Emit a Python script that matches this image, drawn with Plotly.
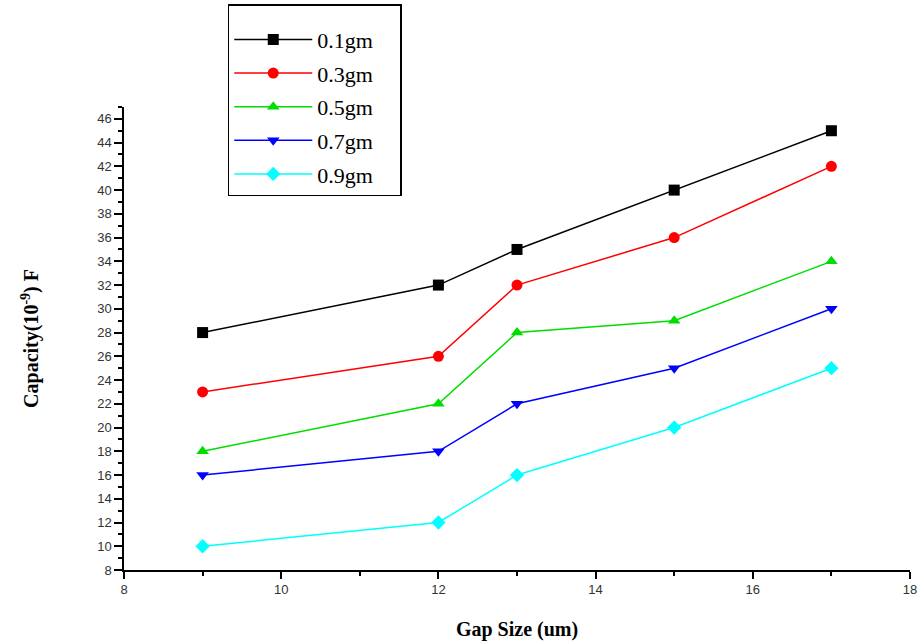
import plotly.graph_objects as go

gap = [9, 12, 13, 15, 17]
names = ["0.1gm", "0.3gm", "0.5gm", "0.7gm", "0.9gm"]
v01 = [28, 32, 35, 40, 45]
v03 = [23, 26, 32, 36, 42]
v05 = [18, 22, 28, 29, 34]
v07 = [16, 18, 22, 25, 30]
v09 = [10, 12, 16, 20, 25]
series = [v01, v03, v05, v07, v09]
colors = ["#000000", "#ff0000", "#00dd00", "#0000ff", "#00ffff"]
symbols = ["square", "circle", "triangle-up", "triangle-down", "diamond"]

fig = go.Figure()
for i, (n, vals) in enumerate(zip(names, series)):
    fig.add_trace(go.Scatter(
        x=gap, y=vals, name=n + "\u00a0" * 4, mode="lines+markers",
        line=dict(color=colors[i], width=1.5),
        marker=dict(symbol=symbols[i], size=11, color=colors[i]),
        legendgroup=n,
    ))

fig.update_layout(
    width=923, height=644,
    margin=dict(l=124, r=13, t=107, b=74, autoexpand=False),
    paper_bgcolor="white", plot_bgcolor="white",
    showlegend=True,
    legend=dict(
        x=0.132, y=1.222, xanchor="left", yanchor="top",
        bordercolor="black", borderwidth=1.5, bgcolor="white",
        font=dict(family="Liberation Serif", size=22, color="black"),
        tracegroupgap=2, itemwidth=78,
        title=dict(text=" ", font=dict(size=10)),
    ),
    xaxis=dict(
        range=[8, 18], tickmode="array", tickvals=[8, 10, 12, 14, 16, 18],
        showgrid=False, zeroline=False, showline=True, linecolor="black", linewidth=1.5,
        ticks="outside", ticklen=7, tickwidth=1.5, tickcolor="black", automargin=False,
        minor=dict(tickvals=[9, 11, 13, 15, 17], ticks="outside", ticklen=4, tickcolor="black", tickwidth=1.5),
        tickfont=dict(family="Liberation Sans", size=13, color="#333"),
        title=dict(text="<b>Gap Size (um)</b>", font=dict(family="Liberation Serif", size=20, color="black"), standoff=26),
    ),
    yaxis=dict(
        range=[8, 47], tickmode="array", tickvals=list(range(8, 47, 2)),
        showgrid=False, zeroline=False, showline=True, linecolor="black", linewidth=1.5,
        ticks="outside", ticklen=8, tickwidth=1.5, tickcolor="black", automargin=False,
        minor=dict(tickvals=list(range(9, 48, 2)), ticks="outside", ticklen=4, tickcolor="black", tickwidth=1.5),
        tickfont=dict(family="Liberation Sans", size=13, color="#333"),
        title=dict(text="<b>Capacity(10<sup>-9</sup>) F</b>", font=dict(family="Liberation Serif", size=20, color="black"), standoff=53),
    ),
)

fig.write_html("out.html", config={"displayModeBar": False},
               post_script="document.body.style.margin='0';")
